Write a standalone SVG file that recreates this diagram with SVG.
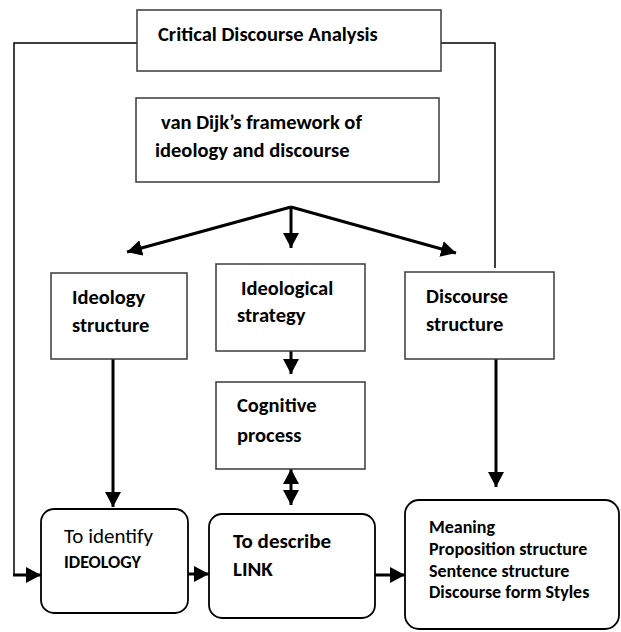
<svg xmlns="http://www.w3.org/2000/svg" width="621" height="632" viewBox="0 0 621 632">
<style>
.box{fill:#fff;stroke:#3a3a3a;stroke-width:1.5}
.rbox{fill:#fff;stroke:#000;stroke-width:1.8}
.t{font-family:Carlito,Lato,"Liberation Sans",sans-serif;font-weight:bold;fill:#000;font-size:20.5px}
.r{font-weight:normal}
.m{font-size:18px}
.thin{fill:none;stroke:#000;stroke-width:1.5}
.thick{fill:none;stroke:#000;stroke-width:3}
</style>
<defs>
<marker id="ah" markerUnits="userSpaceOnUse" markerWidth="16" markerHeight="16" refX="15" refY="8" orient="auto-start-reverse" viewBox="0 0 16 16">
<path d="M0,0 L15,8 L0,16 Z" fill="#000"/>
</marker>
</defs>
<g id="connectors">
<path class="thin" d="M137,43 H14 V575"/>
<path class="thick" d="M13,575 H41" marker-end="url(#ah)"/>
<path class="thin" d="M441,43 H495 V268"/>
<path class="thick" d="M291,207 L127,252" marker-end="url(#ah)"/>
<path class="thick" d="M291,207 V248" marker-end="url(#ah)"/>
<path class="thick" d="M291,207 L456,253" marker-end="url(#ah)"/>
<path class="thick" d="M291,351 V374" marker-end="url(#ah)"/>
<path class="thick" d="M291,469 V505" marker-start="url(#ah)" marker-end="url(#ah)"/>
<path class="thick" d="M113,359 V507" marker-end="url(#ah)"/>
<path class="thick" d="M496,359 V487" marker-end="url(#ah)"/>
<path class="thick" d="M185,574 H209" marker-end="url(#ah)"/>
<path class="thick" d="M375,575 H405" marker-end="url(#ah)"/>
</g>
<g id="cda">
<rect class="box" x="137" y="10" width="304" height="61"/>
<text class="t" x="158" y="41">Critical Discourse Analysis</text>
</g>
<g id="vandijk">
<rect class="box" x="136" y="98" width="303" height="84"/>
<text class="t" x="161" y="129">van Dijk’s framework of</text>
<text class="t" x="155" y="157">ideology and discourse</text>
</g>
<g id="ideology-structure">
<rect class="box" x="51" y="273" width="136" height="86"/>
<text class="t" x="72" y="304">Ideology</text>
<text class="t" x="72" y="332">structure</text>
</g>
<g id="ideological-strategy">
<rect class="box" x="216" y="264" width="149" height="87"/>
<text class="t" x="241" y="295">Ideological</text>
<text class="t" x="237" y="322">strategy</text>
</g>
<g id="discourse-structure">
<rect class="box" x="405" y="272" width="149" height="87"/>
<text class="t" x="426" y="303">Discourse</text>
<text class="t" x="426" y="331">structure</text>
</g>
<g id="cognitive-process">
<rect class="box" x="216" y="382" width="149" height="87"/>
<text class="t" x="237" y="412">Cognitive</text>
<text class="t" x="237" y="442">process</text>
</g>
<g id="to-identify">
<rect class="rbox" x="41" y="509" width="147" height="104" rx="13"/>
<text class="t r" x="64" y="543" style="font-size:21px">To identify</text>
<text class="t m" x="64" y="568">IDEOLOGY</text>
</g>
<g id="to-describe">
<rect class="rbox" x="209" y="514" width="166" height="104" rx="13"/>
<text class="t" x="233" y="548" style="font-size:21px">To describe</text>
<text class="t" x="233" y="576" style="font-size:21px">LINK</text>
</g>
<g id="meaning">
<rect class="rbox" x="405" y="500" width="214" height="129" rx="14"/>
<text class="t m" x="429" y="533">Meaning</text>
<text class="t m" x="429" y="555">Proposition structure</text>
<text class="t m" x="429" y="577">Sentence structure</text>
<text class="t m" x="429" y="598">Discourse form Styles</text>
</g>
</svg>
